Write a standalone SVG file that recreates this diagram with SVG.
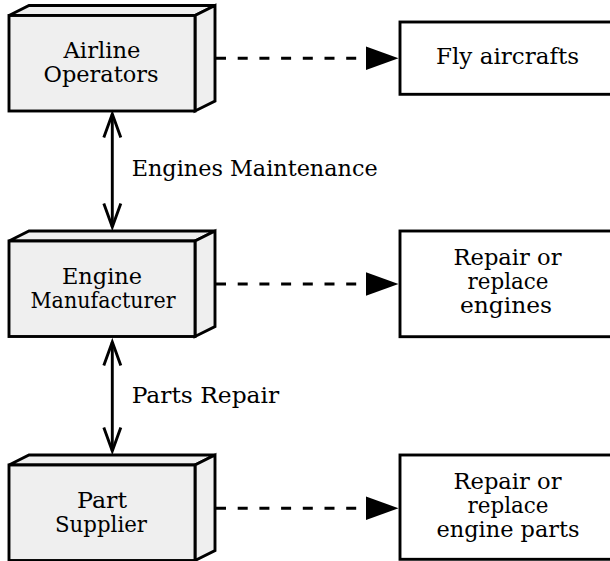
<svg xmlns="http://www.w3.org/2000/svg" xmlns:xlink="http://www.w3.org/1999/xlink" width="610" height="561" viewBox="0 0 610 561">
  <style>
    .face { fill: #efefef; stroke: #000; stroke-width: 2.9; stroke-linejoin: miter; }
    .plain { fill: #fff; stroke: #000; stroke-width: 2.9; }
    .txt { font-family: "DejaVu Serif", "Liberation Serif", serif; font-size: 23px; fill: #000; text-anchor: middle; }
    .lbl { font-family: "DejaVu Serif", "Liberation Serif", serif; font-size: 23px; fill: #000; }
    .dash { fill: none; stroke: #000; stroke-width: 2.9; stroke-dasharray: 10 11.7; }
    .solid { fill: none; stroke: #000; stroke-width: 2.9; }
    .head { fill: #000; stroke: none; }
  </style>
  <defs>
    <!-- 3D block: top face, right face, front face -->
    <g id="cube">
      <path class="face" d="M0,10 L20,0 L206,0 L186,10 Z"/>
      <path class="face" d="M186,10 L206,0 L206,95.5 L186,105.5 Z"/>
      <rect class="face" x="0" y="10" width="186" height="95.5"/>
    </g>
  </defs>

  <rect width="610" height="561" fill="#fff"/>

  <!-- actor blocks -->
  <g id="airline-operators">
    <use xlink:href="#cube" href="#cube" transform="translate(9,5.5)"/>
    <text class="txt" x="102" y="57.5" textLength="77" lengthAdjust="spacingAndGlyphs">Airline</text>
    <text class="txt" x="101" y="81.5" textLength="115" lengthAdjust="spacingAndGlyphs">Operators</text>
  </g>
  <g id="engine-manufacturer">
    <use xlink:href="#cube" href="#cube" transform="translate(9,231)"/>
    <text class="txt" x="102" y="284" textLength="80" lengthAdjust="spacingAndGlyphs">Engine</text>
    <text class="txt" x="103" y="307.5" textLength="145" lengthAdjust="spacingAndGlyphs">Manufacturer</text>
  </g>
  <g id="part-supplier">
    <use xlink:href="#cube" href="#cube" transform="translate(9,455)"/>
    <text class="txt" x="102" y="507.7" textLength="50" lengthAdjust="spacingAndGlyphs">Part</text>
    <text class="txt" x="101" y="531.7" textLength="92" lengthAdjust="spacingAndGlyphs">Supplier</text>
  </g>

  <!-- activity boxes -->
  <g id="fly-aircrafts">
    <rect class="plain" x="400" y="22" width="215" height="72.3"/>
    <text class="txt" x="507.5" y="64.3" textLength="143" lengthAdjust="spacingAndGlyphs">Fly aircrafts</text>
  </g>
  <g id="repair-engines">
    <rect class="plain" x="400" y="231" width="215" height="105.7"/>
    <text class="txt" x="507.5" y="264.5" textLength="108" lengthAdjust="spacingAndGlyphs">Repair or</text>
    <text class="txt" x="508" y="288.5" textLength="81" lengthAdjust="spacingAndGlyphs">replace</text>
    <text class="txt" x="506" y="312.5" textLength="92" lengthAdjust="spacingAndGlyphs">engines</text>
  </g>
  <g id="repair-parts">
    <rect class="plain" x="400" y="455" width="215" height="104.3"/>
    <text class="txt" x="507.5" y="489.3" textLength="108" lengthAdjust="spacingAndGlyphs">Repair or</text>
    <text class="txt" x="508" y="513.3" textLength="81" lengthAdjust="spacingAndGlyphs">replace</text>
    <text class="txt" x="508" y="537.3" textLength="143" lengthAdjust="spacingAndGlyphs">engine parts</text>
  </g>

  <!-- connectors -->
  <g id="connectors">
    <line class="dash" x1="216" y1="58.3" x2="367" y2="58.3"/>
    <polygon class="head" points="366,46.5 398.5,58.3 366,70"/>
    <line class="dash" x1="216" y1="284" x2="367" y2="284"/>
    <polygon class="head" points="366,272.2 398.5,284 366,295.8"/>
    <line class="dash" x1="216" y1="508.3" x2="367" y2="508.3"/>
    <polygon class="head" points="366,496.5 398.5,508.3 366,520.1"/>

    <line class="solid" x1="112.3" y1="114" x2="112.3" y2="227"/>
    <polyline class="solid" points="103.8,137.5 112.3,114 120.8,137.5"/>
    <polyline class="solid" points="103.8,203.5 112.3,227 120.8,203.5"/>
    <text class="lbl" x="131.7" y="176" textLength="246" lengthAdjust="spacingAndGlyphs">Engines Maintenance</text>

    <line class="solid" x1="112.3" y1="342" x2="112.3" y2="451"/>
    <polyline class="solid" points="103.8,365.5 112.3,342 120.8,365.5"/>
    <polyline class="solid" points="103.8,427.5 112.3,451 120.8,427.5"/>
    <text class="lbl" x="131.7" y="402.7" textLength="147.5" lengthAdjust="spacingAndGlyphs">Parts Repair</text>
  </g>
</svg>
